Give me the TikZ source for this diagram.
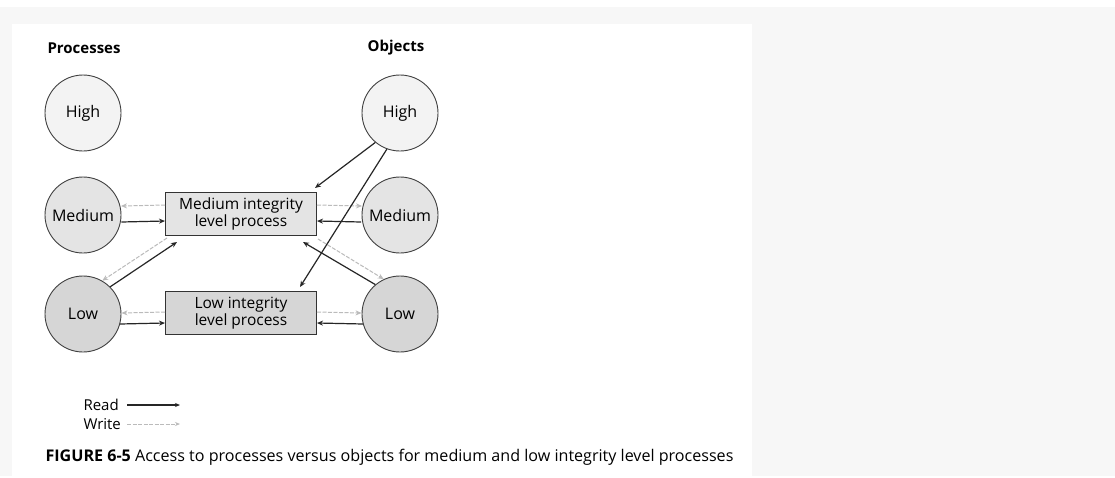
\documentclass[tikz,border=0pt]{standalone}
\usepackage{fontspec}
\setmainfont{Open Sans}
\usetikzlibrary{arrows.meta}
\definecolor{bgray}{HTML}{F7F7F7}
\definecolor{hifill}{HTML}{F3F3F3}
\definecolor{mefill}{HTML}{E4E4E4}
\definecolor{lofill}{HTML}{D6D6D6}
\definecolor{wline}{HTML}{BBBBBB}
\begin{document}
\begin{tikzpicture}[x=1pt,y=-1pt,
  lvl/.style={circle,draw=black!75,line width=0.9pt,minimum size=76pt,inner sep=0pt,font=\fontsize{16}{18}\selectfont},
  pbox/.style={rectangle,draw=black!80,line width=1pt,minimum width=151pt,minimum height=43pt,inner sep=0pt,align=center,font=\fontsize{15.5}{17}\selectfont},
  rd/.style={draw=black!85,line width=1.2pt,-{Stealth[length=6pt,width=5pt]}},
  wr/.style={draw=wline,line width=1pt,dash pattern=on 4pt off 1.5pt,-{Stealth[length=6pt,width=5pt]}},
  hdr/.style={font=\bfseries\fontsize{15}{17}\selectfont},
  leg/.style={font=\fontsize{15}{17}\selectfont,anchor=west}]
\useasboundingbox (0,0) rectangle (1115,477);
\fill[white] (0,0) rectangle (1115,477);
\fill[bgray] (0,7) rectangle (1115,476);
\fill[white] (12,24) rectangle (752,477);
% headers
\node[hdr,anchor=west] (hp) at (44,48) {Processes};
\node[hdr] (ho) at (396,48) {Objects};
% circles
\node[lvl,fill=hifill] (pH) at (83,113) {High};
\node[lvl,fill=mefill] (pM) at (83,215) {Medium};
\node[lvl,fill=lofill] (pL) at (83,314) {Low};
\node[lvl,fill=hifill] (oH) at (400,113) {High};
\node[lvl,fill=mefill] (oM) at (400,215) {Medium};
\node[lvl,fill=lofill] (oL) at (400,314) {Low};
% boxes
\node[pbox,fill=mefill] (mb) at (241,214) {Medium integrity\\level process};
\node[pbox,fill=lofill] (lb) at (241,313) {Low integrity\\level process};
% medium row
\draw[wr] ([yshift=9pt]mb.west) -- ([yshift=9pt,xshift=-0.5pt]pM.east);
\draw[rd] ([yshift=-7pt]pM.east) -- ([yshift=-7pt]mb.west);
\draw[wr] ([yshift=9pt]mb.east) -- ([yshift=9pt,xshift=0.5pt]oM.west);
\draw[rd] ([yshift=-7pt,xshift=-0.5pt]oM.west) -- ([yshift=-7pt]mb.east);
% low row
\draw[wr] ([yshift=1pt]lb.west) -- ([yshift=1pt]pL.east);
\draw[rd] ([yshift=-10pt,xshift=-1.5pt]pL.east) -- ([yshift=-10pt]lb.west);
\draw[wr] ([yshift=1pt]lb.east) -- ([yshift=1pt]oL.west);
\draw[rd] ([yshift=-10pt,xshift=1.5pt]oL.west) -- ([yshift=-10pt]lb.east);
% diagonals left
\draw[rd] (pL.45) -- ([xshift=12pt,yshift=-6pt]mb.south west);
\draw[wr] ([xshift=2pt,yshift=-2pt]mb.south west) -- (pL.60);
% diagonals right
\draw[rd] (oL.130) -- ([xshift=-14pt,yshift=-6pt]mb.south east);
\draw[wr] ([xshift=1pt,yshift=-3pt]mb.south east) -- (oL.115);
% from high object
\draw[rd] (oH.-130) -- ([xshift=-2pt,yshift=4pt]mb.north east);
\draw[rd] (oH.-110) -- ([xshift=-17pt,yshift=4pt]lb.north east);
% legend
\node[leg] (lr) at (80,405) {Read};
\node[leg] (lw) at (80,424) {Write};
\coordinate (r1) at (127,405);
\coordinate (r2) at (180,405);
\coordinate (w1) at (127,424);
\coordinate (w2) at (180,424);
\draw[rd,-{Stealth[length=5pt,width=4pt]}] (r1) -- (r2);
\draw[wr,-{Stealth[length=5pt,width=4pt]}] (w1) -- (w2);
% caption
\node[anchor=west,font=\fontsize{16.1}{17}\selectfont] (cap) at (42,457) {\textbf{FIGURE 6-5}\ Access to processes versus objects for medium and low integrity level processes};
\end{tikzpicture}
\end{document}
